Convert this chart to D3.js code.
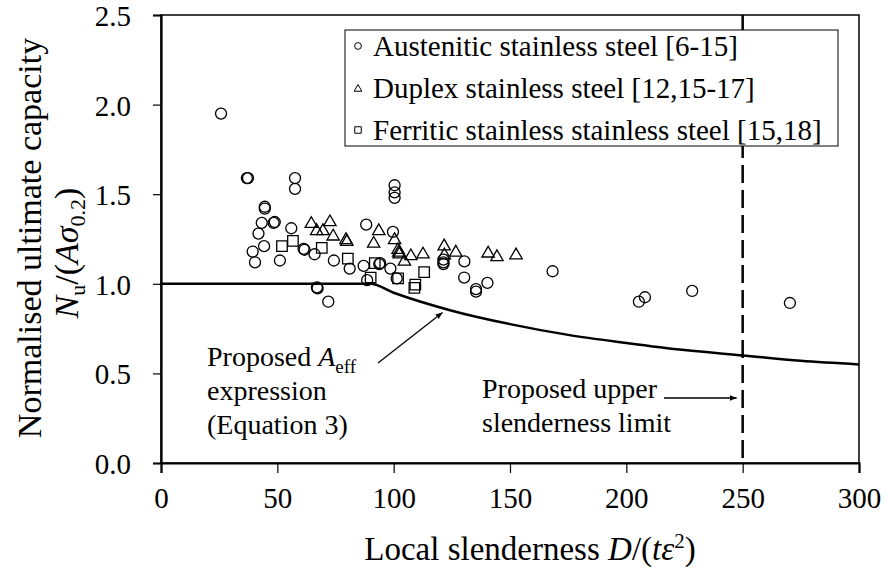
<!DOCTYPE html>
<html>
<head>
<meta charset="utf-8">
<script src="https://cdn.jsdelivr.net/npm/d3@7"></script>
<style>
  body { margin: 0; background: #fff; }
  svg text { font-family: "Liberation Serif", Tinos, "Times New Roman", "DejaVu Serif", serif; fill: #000; }
</style>
</head>
<body>
<div id="chart"></div>
<script>
// Test data: [slenderness, Nu/(A sigma0.2)]
const austenitic = [
    [25.8, 1.95], [36.9, 1.59], [37.4, 1.59], [57.6, 1.59], [57.6, 1.53],
    [44.6, 1.43], [44.6, 1.42], [48.4, 1.34], [48.9, 1.345], [43.3, 1.34],
    [41.9, 1.28], [56.0, 1.31], [39.4, 1.18], [44.3, 1.21], [40.4, 1.12],
    [51.1, 1.13], [61.3, 1.195], [61.7, 1.19], [66.0, 1.165], [74.3, 1.13],
    [81.1, 1.085], [88.2, 1.33], [99.7, 1.29], [100.4, 1.55], [100.4, 1.51],
    [100.4, 1.48], [87.1, 1.10], [93.8, 1.11], [94.2, 1.115], [98.6, 1.085],
    [101.3, 1.03], [88.6, 1.02], [67.0, 0.98], [67.3, 0.975], [71.9, 0.90],
    [121.4, 1.135], [121.4, 1.12], [121.4, 1.11], [130.4, 1.125], [130.3, 1.035],
    [135.4, 0.97], [135.4, 0.956], [140.3, 1.005], [168.3, 1.07], [205.4, 0.90],
    [208.0, 0.925], [228.3, 0.96], [270.3, 0.893]
];
const duplex = [
    [64.6, 1.34], [72.6, 1.35], [66.9, 1.30], [69.6, 1.30], [74.0, 1.27],
    [79.5, 1.25], [79.9, 1.24], [93.6, 1.30], [91.4, 1.23], [100.4, 1.25],
    [101.9, 1.195], [102.2, 1.18], [102.4, 1.17], [104.6, 1.13], [107.4, 1.16],
    [112.6, 1.17], [121.7, 1.215], [121.8, 1.165], [126.7, 1.18], [140.6, 1.175],
    [144.4, 1.155], [152.6, 1.165]
];
const ferritic = [
    [52.0, 1.21], [56.7, 1.24], [69.1, 1.20], [80.3, 1.14], [91.9, 1.115],
    [90.1, 1.035], [101.9, 1.03], [113.1, 1.065], [109.3, 0.995], [108.9, 0.977]
];
// Proposed Aeff curve, read at a few slenderness values
const curveX = [0, 90, 100, 125, 150, 175, 200, 225, 250, 275, 300];
const curveY = [1.0, 1.0, 0.95, 0.85, 0.775, 0.715, 0.67, 0.63, 0.60, 0.57, 0.55];
const slendernessLimit = 250;

const xTicks = [0, 50, 100, 150, 200, 250, 300];
const yTicks = [0, 0.5, 1.0, 1.5, 2.0, 2.5];
const legendLabels = [
    'Austenitic stainless steel [6-15]',
    'Duplex stainless steel [12,15-17]',
    'Ferritic stainless stainless steel [15,18]'
];

const width = 887, height = 575;
const margin = { left: 161, right: 28, top: 15, bottom: 112 };
const serif = '"Liberation Serif", Tinos, "Times New Roman", "DejaVu Serif", serif';

const svg = d3.select('#chart').append('svg')
    .attr('width', width)
    .attr('height', height);

const defs = svg.append('defs');
defs.append('marker')
    .attr('id', 'arrowhead')
    .attr('viewBox', '0 0 10 10')
    .attr('refX', 10)
    .attr('refY', 5)
    .attr('markerWidth', 7)
    .attr('markerHeight', 7)
    .attr('markerUnits', 'userSpaceOnUse')
    .attr('orient', 'auto')
    .append('path')
    .attr('d', 'M 0 1 L 10 5 L 0 9 z')
    .attr('fill', '#000');

const x = d3.scaleLinear().domain([0, 300]).range([margin.left, width - margin.right]);
const y = d3.scaleLinear().domain([0, 2.5]).range([height - margin.bottom, margin.top]);

// Frame
svg.append('rect')
    .attr('x', x(0)).attr('y', y(2.5))
    .attr('width', x(300) - x(0)).attr('height', y(0) - y(2.5))
    .attr('fill', 'none').attr('stroke', '#000').attr('stroke-width', 1.5);

// Axes
const xAxis = svg.append('g')
    .attr('transform', `translate(0,${y(0)})`)
    .call(d3.axisBottom(x).tickValues(xTicks).tickSize(10).tickPadding(14).tickFormat(d3.format('d')));
const yAxis = svg.append('g')
    .attr('transform', `translate(${x(0)},0)`)
    .call(d3.axisLeft(y).tickValues(yTicks).tickSize(8).tickPadding(22).tickFormat(d3.format('.1f')));

[xAxis, yAxis].forEach(ax => {
    ax.attr('font-family', serif);
    ax.select('.domain').attr('stroke-width', 2.2);
    ax.selectAll('.tick line').attr('stroke-width', 1.2);
    ax.selectAll('.tick text')
        .style('font-family', serif)
        .style('font-size', '29px')
        .attr('fill', '#000');
});
yAxis.selectAll('.tick text').attr('dy', '0.36em');

// Axis titles
const xTitle = svg.append('text')
    .attr('x', 530).attr('y', 560)
    .attr('text-anchor', 'middle')
    .style('font-size', '33px');
xTitle.append('tspan').text('Local slenderness ');
xTitle.append('tspan').style('font-style', 'italic').text('D');
xTitle.append('tspan').text('/(');
xTitle.append('tspan').style('font-style', 'italic').text('tε');
xTitle.append('tspan').attr('dy', -12).style('font-size', '21px').text('2');
xTitle.append('tspan').attr('dy', 12).text(')');

const yTitle = svg.append('g').attr('transform', 'translate(41,238) rotate(-90)');
yTitle.append('text')
    .attr('text-anchor', 'middle')
    .style('font-size', '34px')
    .text('Normalised ultimate capacity');
const yTitle2 = yTitle.append('text')
    .attr('x', -15).attr('y', 37)
    .attr('text-anchor', 'middle')
    .style('font-size', '34px');
yTitle2.append('tspan').style('font-style', 'italic').text('N');
yTitle2.append('tspan').attr('dy', 7).style('font-size', '22px').text('u');
yTitle2.append('tspan').attr('dy', -7).text('/(');
yTitle2.append('tspan').style('font-style', 'italic').text('Aσ');
yTitle2.append('tspan').attr('dy', 7).style('font-size', '22px').text('0.2');
yTitle2.append('tspan').attr('dy', -7).text(')');

// Proposed Aeff curve
const line = d3.line()
    .x(d => x(d[0]))
    .y(d => y(d[1]))
    .curve(d3.curveMonotoneX);
svg.append('path')
    .datum(curveX.map((v, i) => [v, curveY[i]]))
    .attr('d', line)
    .attr('fill', 'none')
    .attr('stroke', '#000')
    .attr('stroke-width', 2.5);

// Upper slenderness limit
svg.append('line')
    .attr('x1', x(slendernessLimit)).attr('x2', x(slendernessLimit))
    .attr('y1', y(2.5)).attr('y2', y(0))
    .attr('stroke', '#000')
    .attr('stroke-width', 2.5)
    .attr('stroke-dasharray', '18,7');

// Markers
const mark = { stroke: '#000', width: 1.3 };
const sym = {
    circle: d3.symbol().type(d3.symbolCircle),
    triangle: d3.symbol().type(d3.symbolTriangle),
    square: d3.symbol().type(d3.symbolSquare)
};

function drawSeries(data, gen, size, dy) {
    svg.append('g').selectAll('path')
        .data(data)
        .enter()
        .append('path')
        .attr('transform', d => `translate(${x(d[0])},${y(d[1]) + dy})`)
        .attr('d', gen.size(size)())
        .attr('fill', 'none')
        .attr('stroke', mark.stroke)
        .attr('stroke-width', mark.width);
}
drawSeries(austenitic, sym.circle, 95, 0);
drawSeries(duplex, sym.triangle, 66, 1);
drawSeries(ferritic, sym.square, 110, 0);

// Legend
const legend = svg.append('g');
legend.append('rect')
    .attr('x', 345).attr('y', 30)
    .attr('width', 493).attr('height', 116)
    .attr('fill', '#fff')
    .attr('stroke', '#000')
    .attr('stroke-width', 1);
const legendSyms = [sym.circle.size(36)(), sym.triangle.size(26)(), sym.square.size(42)()];
legendLabels.forEach((label, i) => {
    const cy = 46 + i * 42;
    legend.append('path')
        .attr('transform', `translate(358,${cy + (i === 1 ? 1 : 0)})`)
        .attr('d', legendSyms[i])
        .attr('fill', 'none')
        .attr('stroke', '#000')
        .attr('stroke-width', 1);
    legend.append('text')
        .attr('x', 373).attr('y', cy + 10)
        .style('font-size', '29px')
        .text(label);
});

// Annotations
const noteSize = '28px';
const note1 = svg.append('text').style('font-size', noteSize);
note1.append('tspan').attr('x', 207).attr('y', 366).text('Proposed ');
note1.append('tspan').style('font-style', 'italic').text('A');
note1.append('tspan').attr('dy', 7).style('font-size', '19px').text('eff');
svg.append('text').attr('x', 207).attr('y', 400).style('font-size', noteSize).text('expression');
svg.append('text').attr('x', 207).attr('y', 434).style('font-size', noteSize).text('(Equation 3)');

svg.append('line')
    .attr('x1', 378).attr('y1', 363)
    .attr('x2', x(121)).attr('y2', y(0.84))
    .attr('stroke', '#000').attr('stroke-width', 1.3)
    .attr('marker-end', 'url(#arrowhead)');

svg.append('text').attr('x', 482).attr('y', 398).style('font-size', noteSize).text('Proposed upper');
svg.append('text').attr('x', 482).attr('y', 432).style('font-size', noteSize).text('slenderness limit');
svg.append('line')
    .attr('x1', 664).attr('y1', 398)
    .attr('x2', x(slendernessLimit) - 6).attr('y2', 398)
    .attr('stroke', '#000').attr('stroke-width', 1.3)
    .attr('marker-end', 'url(#arrowhead)');
</script>
</body>
</html>
